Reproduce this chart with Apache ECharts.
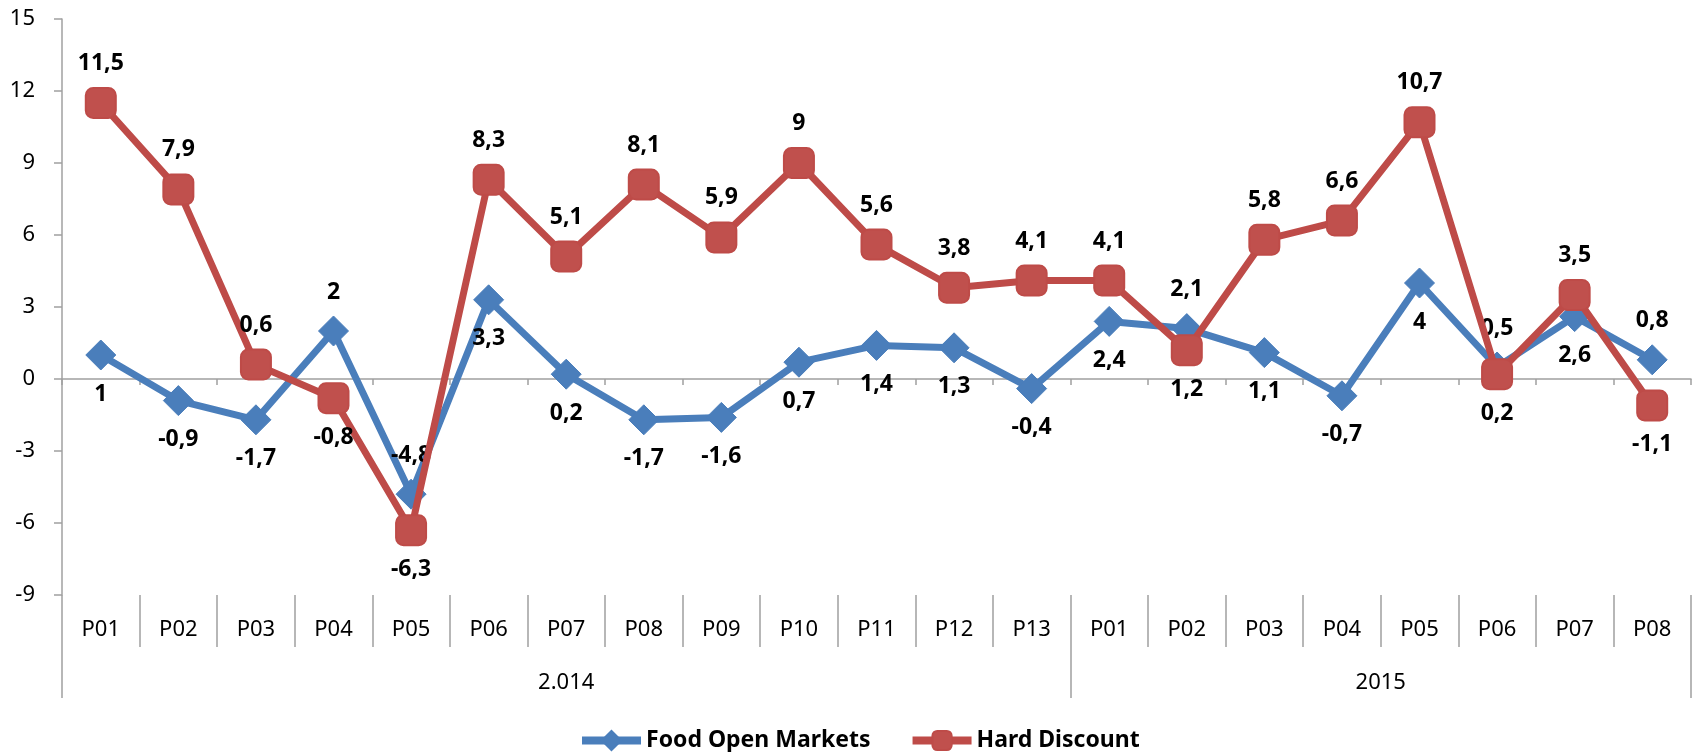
<!DOCTYPE html>
<html>
<head>
<meta charset="utf-8">
<script src="https://cdn.jsdelivr.net/npm/echarts@6/dist/echarts.min.js"></script>
<style>
  html, body { margin: 0; padding: 0; background: #fff; }
  #chart { width: 1696px; height: 752px; }
</style>
</head>
<body>
<div id="chart"></div>
<script>
// periods, two years side by side
const periods = ['P01', 'P02', 'P03', 'P04', 'P05', 'P06', 'P07', 'P08', 'P09', 'P10', 'P11', 'P12', 'P13',
    'P01', 'P02', 'P03', 'P04', 'P05', 'P06', 'P07', 'P08']
const years = ['2.014', '2015']
const yearLengths = [13, 8]

const foodOpenMarkets = [1, -0.9, -1.7, 2, -4.8, 3.3, 0.2, -1.7, -1.6, 0.7, 1.4, 1.3, -0.4,
    2.4, 2.1, 1.1, -0.7, 4, 0.5, 2.6, 0.8]
const hardDiscount = [11.5, 7.9, 0.6, -0.8, -6.3, 8.3, 5.1, 8.1, 5.9, 9, 5.6, 3.8, 4.1,
    4.1, 1.2, 5.8, 6.6, 10.7, 0.2, 3.5, -1.1]

const yTicks = { min: -9, max: 15, step: 3 }

// where each data label sits (like the excel sheet did)
const fomLabelAbove = [3, 4, 14, 18, 20]
const hdLabelBelow = [3, 4, 14, 18, 20]

const BLUE = '#4A7EBB'
const RED = '#BE4B48'
const FONT = '"Noto Sans", "Open Sans", sans-serif'

const fmt = v => String(v).replace('.', ',')

// half-step axis used only for the year row: 2 slots per period, labels on group centres
const yearSlots = []
const yearTickIdx = [0]
const yearLabelIdx = {}
let pos = 0
years.forEach((y, i) => {
    yearLabelIdx[pos + yearLengths[i]] = y
    pos += yearLengths[i] * 2
    yearTickIdx.push(pos)
})
for (let i = 0; i <= periods.length * 2; i++) yearSlots.push(yearLabelIdx[i] || '')

function buildData(values, flipIdx, defPos, flipPos) {
    return values.map((v, i) => ({
        value: v,
        label: { position: flipIdx.includes(i) ? flipPos : defPos }
    }))
}

const labelStyle = {
    show: true,
    distance: 12,
    fontFamily: FONT,
    fontSize: 23,
    fontWeight: 'bold',
    color: '#000',
    formatter: p => fmt(p.value)
}

const chart = echarts.init(document.getElementById('chart'))

chart.setOption({
    animation: false,
    backgroundColor: '#fff',
    grid: { left: 62, right: 5, top: 19, bottom: 157 },
    legend: {
        left: 573,
        top: 724,
        itemWidth: 59,
        itemHeight: 24,
        itemGap: 38,
        lineStyle: { width: 8 },
        textStyle: { fontFamily: FONT, fontSize: 23, fontWeight: 'bold', color: '#000' },
        data: ['Food Open Markets', 'Hard Discount']
    },
    xAxis: [
        {
            // zero line with small ticks
            type: 'category',
            data: periods,
            axisLine: { onZero: true, lineStyle: { color: '#A0A0A0', width: 1.5 } },
            axisTick: { show: true, length: 6, lineStyle: { color: '#A0A0A0', width: 1.5 } },
            axisLabel: { show: false }
        },
        {
            type: 'category',
            data: periods,
            position: 'bottom',
            axisLine: { show: false, onZero: false },
            axisTick: { show: true, length: 52, interval: 0, lineStyle: { color: '#A0A0A0', width: 1.5 } },
            axisLabel: { interval: 0, margin: 24, fontFamily: FONT, fontSize: 22, color: '#000' }
        },
        {
            type: 'category',
            data: yearSlots,
            boundaryGap: false,
            position: 'bottom',
            axisLine: { show: false, onZero: false },
            axisTick: {
                show: true, length: 103,
                interval: idx => yearTickIdx.includes(idx),
                lineStyle: { color: '#A0A0A0', width: 1.5 }
            },
            axisLabel: {
                interval: idx => yearSlots[idx] !== '',
                margin: 77, fontFamily: FONT, fontSize: 22, color: '#000'
            }
        }
    ],
    yAxis: {
        type: 'value',
        min: yTicks.min,
        max: yTicks.max,
        interval: yTicks.step,
        splitLine: { show: false },
        axisLine: { show: true, lineStyle: { color: '#A0A0A0', width: 1.5 } },
        axisTick: { show: true, length: 8, lineStyle: { color: '#A0A0A0', width: 1.5 } },
        axisLabel: { margin: 27, fontFamily: FONT, fontSize: 22, color: '#000' }
    },
    series: [
        {
            name: 'Food Open Markets',
            type: 'line',
            xAxisIndex: 0,
            data: buildData(foodOpenMarkets, fomLabelAbove, 'bottom', 'top'),
            symbol: 'diamond',
            symbolSize: 30,
            lineStyle: { color: BLUE, width: 7 },
            itemStyle: { color: BLUE, borderColor: BLUE, borderWidth: 1 },
            label: labelStyle,
            z: 2
        },
        {
            name: 'Hard Discount',
            type: 'line',
            xAxisIndex: 0,
            data: buildData(hardDiscount, hdLabelBelow, 'top', 'bottom'),
            symbol: 'roundRect',
            symbolSize: 30,
            lineStyle: { color: RED, width: 7 },
            itemStyle: { color: '#C0504D', borderColor: RED, borderWidth: 2 },
            label: labelStyle,
            z: 3
        }
    ]
})

window.addEventListener('resize', () => chart.resize())
</script>
</body>
</html>
